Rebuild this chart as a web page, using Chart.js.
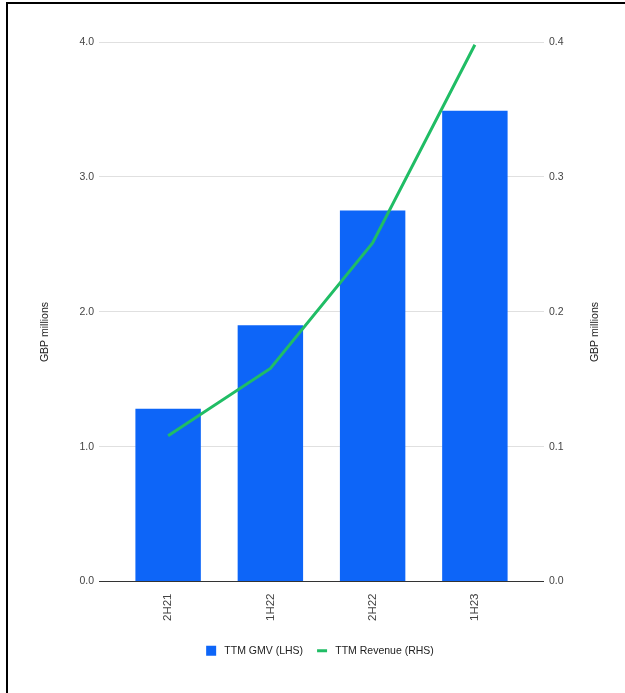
<!DOCTYPE html>
<html>
<head>
<meta charset="utf-8">
<script src="https://cdn.jsdelivr.net/npm/chart.js@4"></script>
<style>
  html,body{margin:0;padding:0;background:#fff;}
  #wrap{position:absolute;left:0;top:0;width:625px;height:693px;}
  #frame{position:absolute;left:6px;top:2px;width:700px;height:800px;border-left:2px solid #000;border-top:2px solid #000;pointer-events:none;}
</style>
</head>
<body>
<div id="wrap"><canvas id="chart" width="625" height="693"></canvas></div>
<div id="frame"></div>
<script>
const periods = ['2H21','1H22','2H22','1H23'];
const gmv = [1.28, 1.90, 2.75, 3.49];        // TTM GMV, GBP m (LHS)
const revenue = [0.108, 0.158, 0.251, 0.398]; // TTM Revenue, GBP m (RHS)
const gmvTicks = [0, 1, 2, 3, 4];
const revTicks = [0, 0.1, 0.2, 0.3, 0.4];
const axisTitle = 'GBP millions';

const FONT = "Arial, 'Liberation Sans', sans-serif";
const gridCol = c => (c.tick && c.tick.value === 0) ? '#333333' : '#e0e0e0';

// both axis titles read bottom-to-top, like the sheet export
const titles = {
  id: 'axisTitles',
  afterDraw(chart) {
    const c = chart.ctx, y = 332;
    c.save();
    c.font = '10.5px ' + FONT;
    c.fillStyle = '#222';
    c.textAlign = 'center';
    c.textBaseline = 'middle';
    [45.5, 595].forEach(x => {
      c.save();
      c.translate(x, y);
      c.rotate(-Math.PI / 2);
      c.fillText(axisTitle, 0, 0);
      c.restore();
    });
    c.restore();
  }
};

const ctx = document.getElementById('chart').getContext('2d');
new Chart(ctx, {
  type: 'bar',
  data: {
    labels: periods,
    datasets: [
      {label: 'TTM GMV (LHS)', data: gmv, backgroundColor: '#0d65f8', borderWidth: 0,
       yAxisID: 'y', order: 1, categoryPercentage: 1, barPercentage: 0.64},
      {label: 'TTM Revenue (RHS)', type: 'line', data: revenue, borderColor: '#20bd65',
       backgroundColor: '#20bd65', borderWidth: 3, pointRadius: 0, tension: 0,
       yAxisID: 'y1', order: 0}
    ]
  },
  options: {
    responsive: false,
    animation: false,
    layout: {padding: {left: 15, right: 0, top: 42, bottom: 27}},
    plugins: {
      tooltip: {enabled: false},
      legend: {
        position: 'bottom',
        labels: {
          usePointStyle: true, pointStyleWidth: 10, boxHeight: 10, padding: 14,
          color: '#222', font: {family: FONT, size: 10.5},
          sort: (a, b) => a.datasetIndex - b.datasetIndex,
          generateLabels: chart => Chart.defaults.plugins.legend.labels.generateLabels(chart).map(l => {
            l.pointStyle = l.datasetIndex === 0 ? 'rect' : 'line';
            l.text = ' ' + l.text;
            return l;
          })
        }
      }
    },
    scales: {
      x: {
        grid: {display: false, drawTicks: false},
        border: {display: false},
        ticks: {color: '#444', font: {family: FONT, size: 11.5}, minRotation: 90, maxRotation: 90, padding: 12},
        afterFit: s => { s.height = 50; }
      },
      y: {
        position: 'left', min: 0, max: 4,
        afterBuildTicks: s => { s.ticks = gmvTicks.map(v => ({value: v})); },
        grid: {color: gridCol, tickColor: gridCol, tickLength: 18},
        border: {display: false},
        ticks: {color: '#444', font: {family: FONT, size: 10.5}, padding: 5, callback: v => v.toFixed(1)},
        afterFit: s => { s.width = 102; }
      },
      y1: {
        position: 'right', min: 0, max: 0.4,
        afterBuildTicks: s => { s.ticks = revTicks.map(v => ({value: v})); },
        grid: {drawOnChartArea: false, color: gridCol, tickColor: gridCol, tickLength: 18},
        border: {display: false},
        ticks: {color: '#444', font: {family: FONT, size: 10.5}, padding: 5, callback: v => v.toFixed(1)},
        afterFit: s => { s.width = 99; }
      }
    }
  },
  plugins: [titles]
});
</script>
</body>
</html>
